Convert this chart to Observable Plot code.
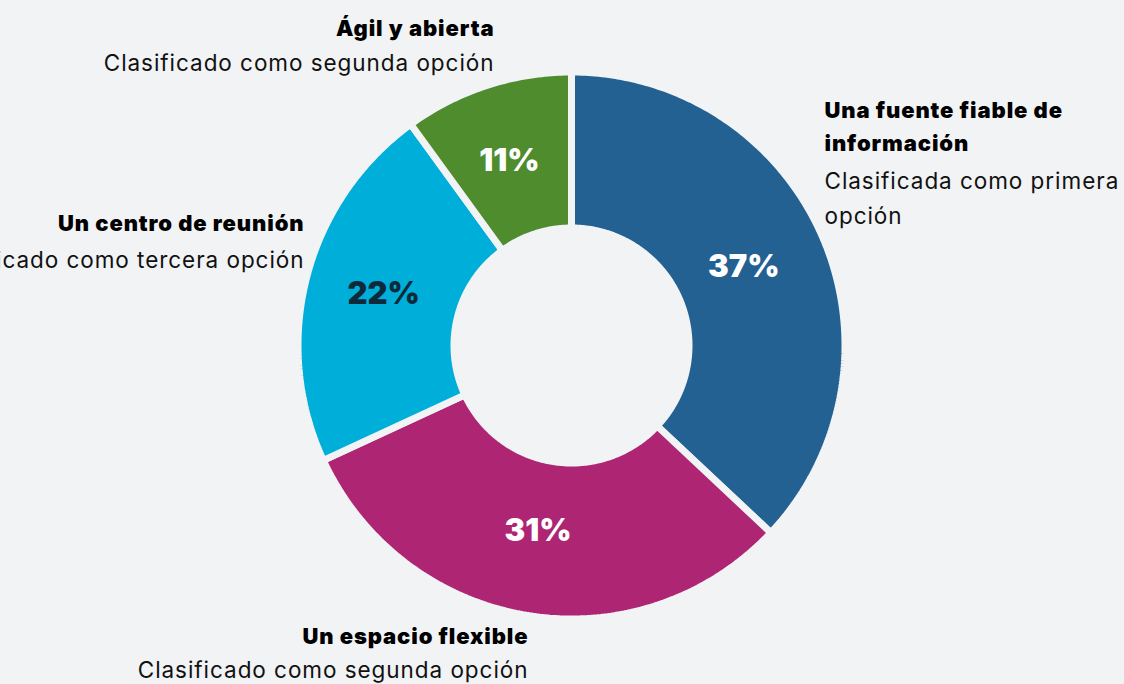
<!DOCTYPE html>
<html>
<head>
<meta charset="utf-8">
<script src="https://cdn.jsdelivr.net/npm/d3@7"></script>
<script src="https://cdn.jsdelivr.net/npm/@observablehq/plot@0.6"></script>
<style>
  html, body { margin: 0; padding: 0; background: #F2F3F5; }
  #chart svg { display: block; }
  #chart svg g[font-weight="900"][font-size="22"] text { letter-spacing: 0.9px; }
  #chart svg g[font-weight="400"] text { letter-spacing: 0.95px; }
</style>
</head>
<body>
<div id="chart"></div>
<script>
// ---- Data ----
const categories = ["Una fuente fiable de\ninformación", "Un espacio flexible", "Un centro de reunión", "Ágil y abierta"];
// slice shares
const values = [37, 31.1, 21.9, 10];
const subtitles = ["Clasificada como primera\nopción", "Clasificado como segunda opción", "Clasificado como tercera opción", "Clasificado como segunda opción"];
const percentLabels = ["37%", "31%", "22%", "11%"];

// ---- Styles / layout ----
const colors = ["#236192", "#AE2573", "#00AEDA", "#4E8C2D"];
const pctColors = ["#ffffff", "#ffffff", "#0E2A3A", "#ffffff"];
const bg = "#F2F3F5";
const W = 1124, H = 684, CX = 571, CY = 345;
const gap = 7;
const rOuter = 270 + gap / 2, rInner = 121 - gap / 2, rLabel = 191;
// label anchor positions (pixel layout), per category
const labelLayout = [
  {x: 824, yTitle: 150, ySub: 223, anchor: "start"},
  {x: 528, yTitle: 643, ySub: 677, anchor: "end"},
  {x: 304, yTitle: 230, ySub: 267, anchor: "end"},
  {x: 494, yTitle: 35,  ySub: 70,  anchor: "end"}
];

const pie = d3.pie().sort(null).value(d => d)(values);
// build slice polygons from pie angles (clockwise from 12 o'clock)
const pts = [];
pie.forEach((p, i) => {
  const n = Math.max(8, Math.ceil((p.endAngle - p.startAngle) * 80));
  for (let k = 0; k <= n; k++) {
    const a = p.startAngle + (p.endAngle - p.startAngle) * k / n;
    pts.push({i, x: rOuter * Math.sin(a), y: -rOuter * Math.cos(a)});
  }
  for (let k = n; k >= 0; k--) {
    const a = p.startAngle + (p.endAngle - p.startAngle) * k / n;
    pts.push({i, x: rInner * Math.sin(a), y: -rInner * Math.cos(a)});
  }
});
const pct = pie.map((p, i) => {
  const a = (p.startAngle + p.endAngle) / 2;
  return {i, x: rLabel * Math.sin(a), y: -rLabel * Math.cos(a), text: percentLabels[i]};
});
const labels = categories.map((c, i) => ({
  i, title: c, sub: subtitles[i],
  x: labelLayout[i].x - CX, yT: labelLayout[i].yTitle - CY, yS: labelLayout[i].ySub - CY,
  anchor: labelLayout[i].anchor
}));

const font = "Inter, 'Noto Sans', sans-serif";
const chart = Plot.plot({
  width: W, height: H,
  margin: 0,
  style: {background: bg, fontFamily: font},
  x: {domain: [-CX, W - CX], axis: null},
  y: {domain: [H - CY, -CY], axis: null},
  marks: [
    Plot.line(pts, {x: "x", y: "y", z: "i", fill: d => colors[d.i], stroke: bg, strokeWidth: gap, strokeLinejoin: "miter", curve: "linear-closed"}),
    Plot.text(pct, {x: "x", y: "y", text: "text", fill: d => pctColors[d.i], fontSize: 31, fontWeight: 900, lineAnchor: "middle", textAnchor: "middle", dx: -3, dy: -3}),
    ...["start", "end"].flatMap(anchor => [
      Plot.text(labels.filter(d => d.anchor === anchor), {x: "x", y: "yT", text: "title", textAnchor: anchor, lineAnchor: "bottom", fontSize: 22, fontWeight: 900, fill: "#000", lineHeight: 1.5}),
      Plot.text(labels.filter(d => d.anchor === anchor), {x: "x", y: "yS", text: "sub", textAnchor: anchor, lineAnchor: "bottom", fontSize: 22.5, fontWeight: 400, fill: "#111", lineHeight: 1.55})
    ])
  ]
});
document.getElementById("chart").appendChild(chart);
</script>
</body>
</html>
